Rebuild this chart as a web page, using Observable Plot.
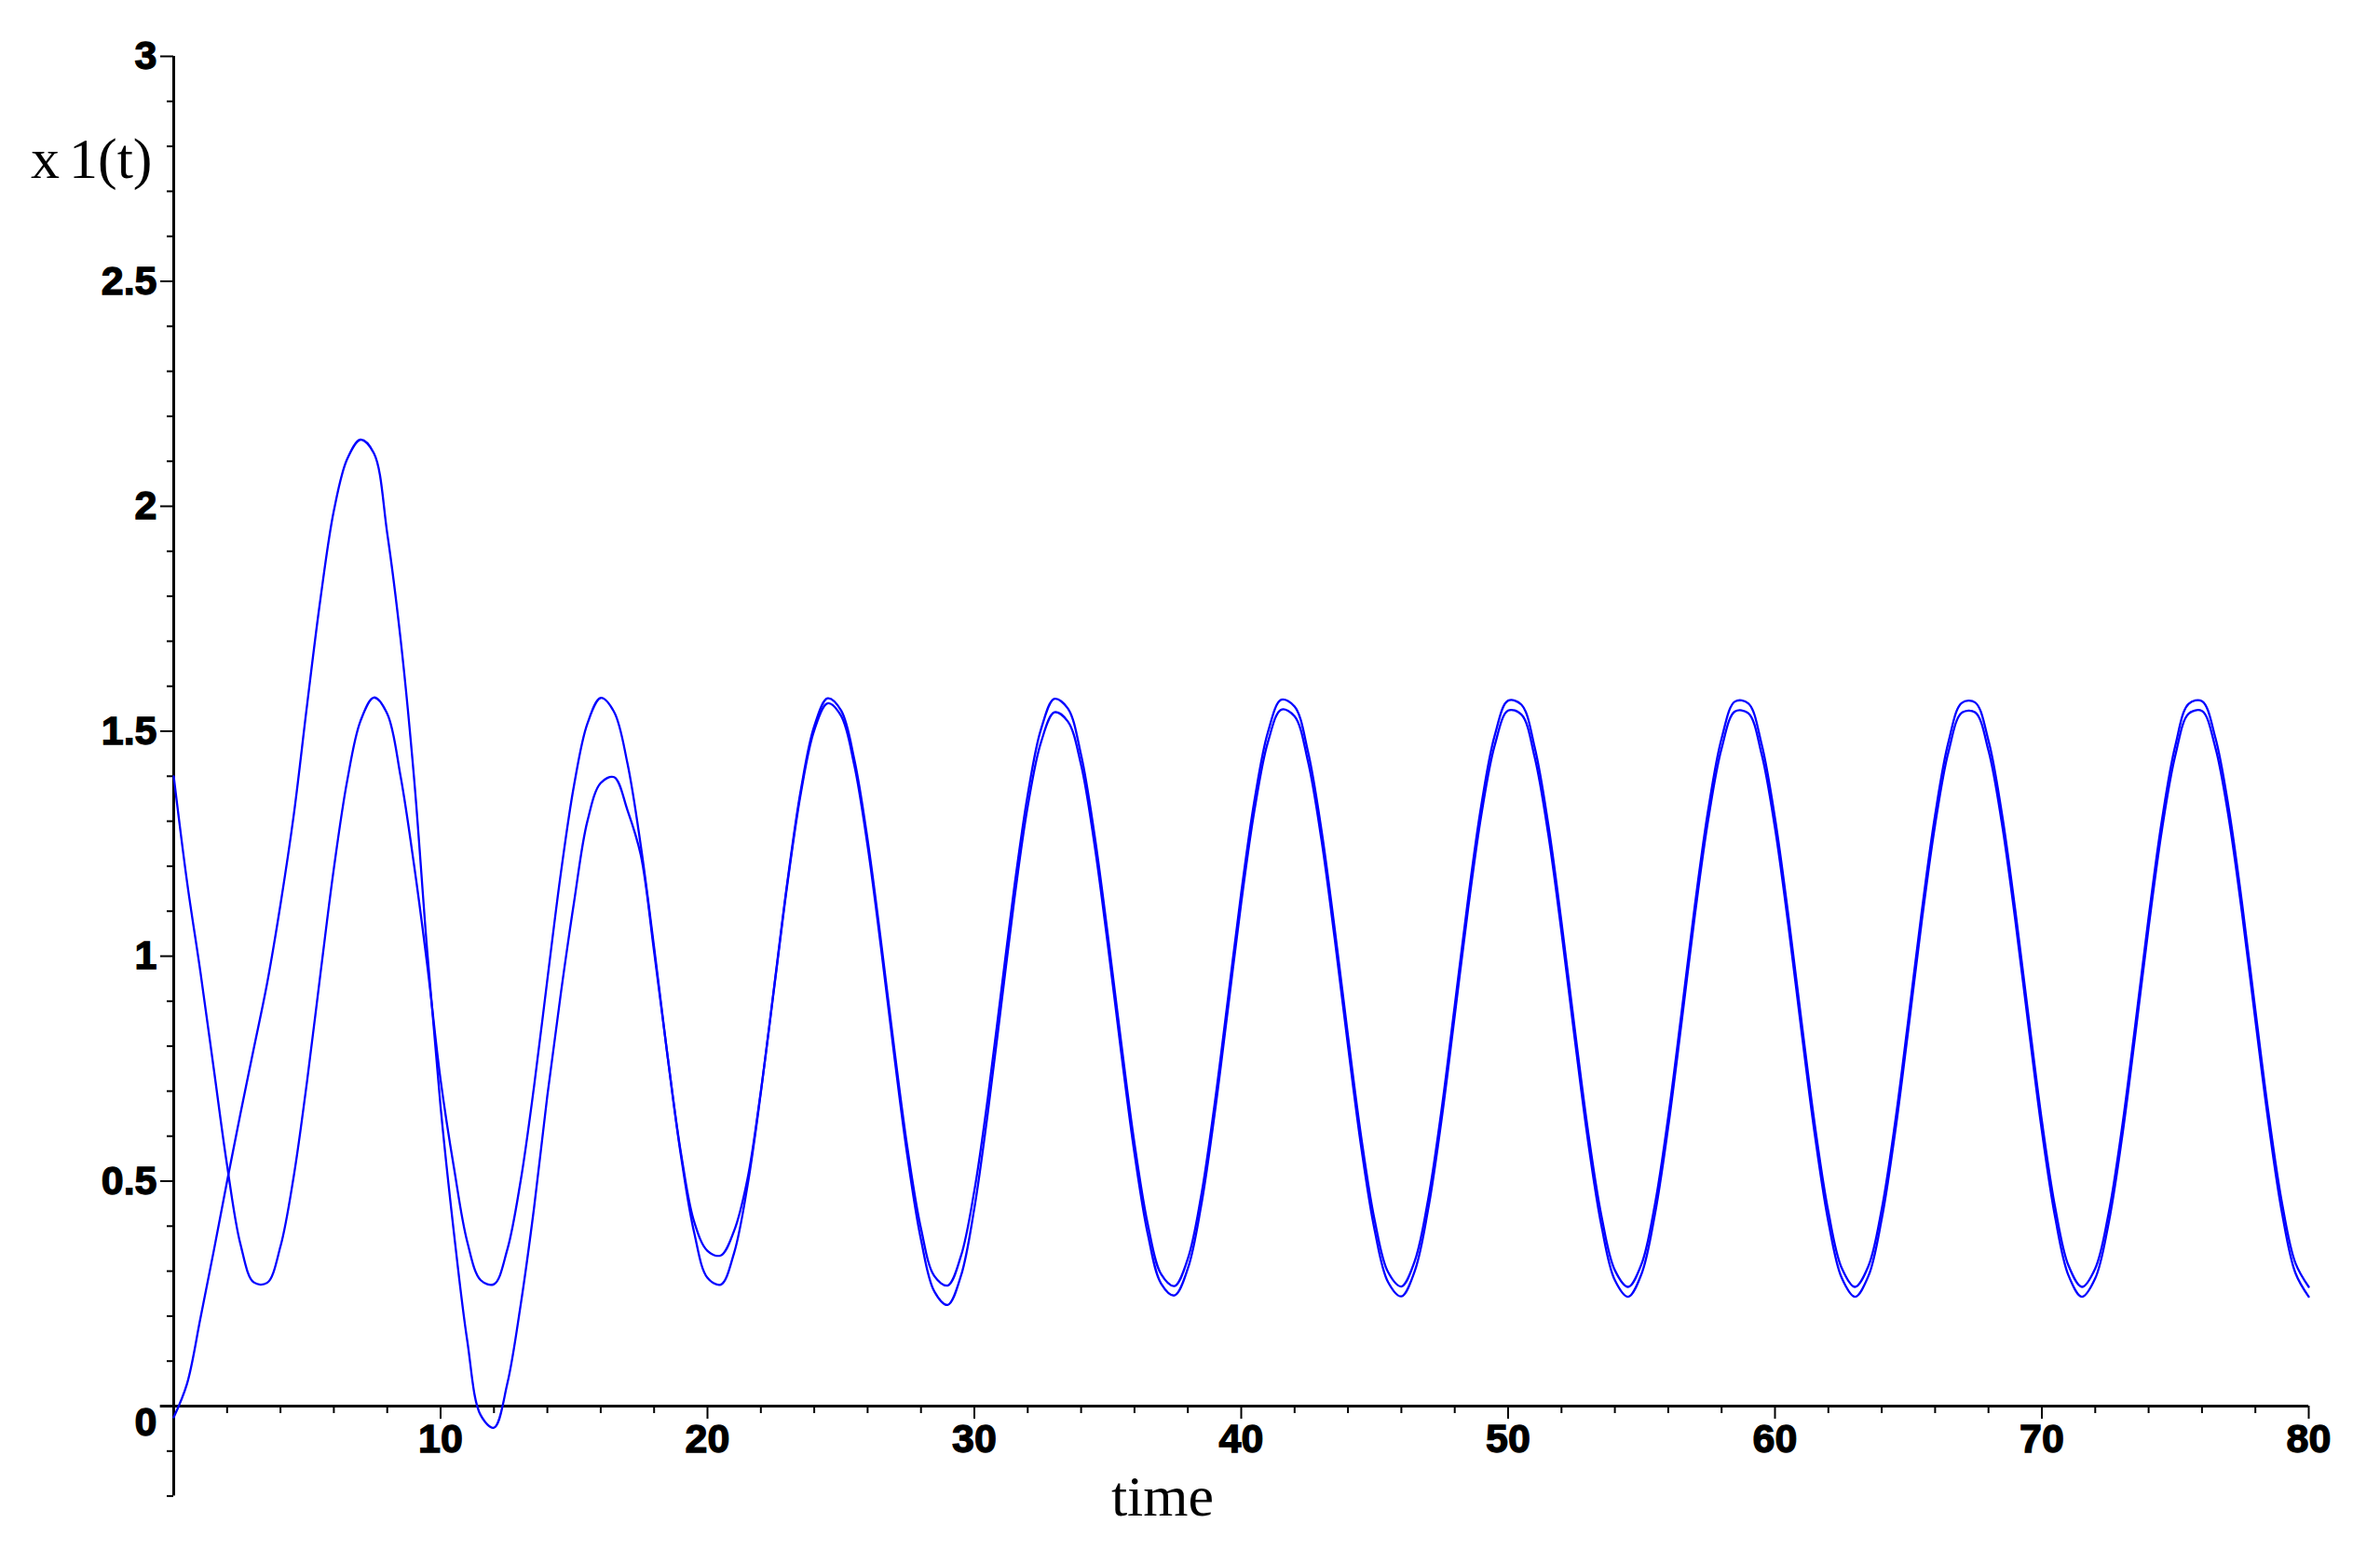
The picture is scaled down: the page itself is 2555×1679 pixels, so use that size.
<!DOCTYPE html>
<html>
<head>
<meta charset="utf-8">
<script src="https://cdn.jsdelivr.net/npm/d3@7"></script>
<script src="https://cdn.jsdelivr.net/npm/@observablehq/plot@0.6"></script>
<style>
  html, body { margin: 0; padding: 0; background: #ffffff; }
  #chart { width: 2555px; height: 1679px; }
  g[aria-label="x-axis tick label"] text,
  g[aria-label="y-axis tick label"] text { stroke: #000; stroke-width: 1.3px; }
</style>
</head>
<body>
<div id="chart"></div>
<script>
// ---- data ----
const time = [
  0, 0.5, 1, 1.5, 2, 2.5, 3, 3.5, 4, 4.5,
  5, 5.5, 6, 6.5, 7, 7.5, 8, 8.5, 9, 9.5,
  10, 10.5, 11, 11.5, 12, 12.5, 13, 13.5, 14, 14.5,
  15, 15.5, 16, 16.5, 17, 17.5, 18, 18.5, 19, 19.5,
  20, 20.5, 21, 21.5, 22, 22.5, 23, 23.5, 24, 24.5,
  25, 25.5, 26, 26.5, 27, 27.5, 28, 28.5, 29, 29.5,
  30, 30.5, 31, 31.5, 32, 32.5, 33, 33.5, 34, 34.5,
  35, 35.5, 36, 36.5, 37, 37.5, 38, 38.5, 39, 39.5,
  40, 40.5, 41, 41.5, 42, 42.5, 43, 43.5, 44, 44.5,
  45, 45.5, 46, 46.5, 47, 47.5, 48, 48.5, 49, 49.5,
  50, 50.5, 51, 51.5, 52, 52.5, 53, 53.5, 54, 54.5,
  55, 55.5, 56, 56.5, 57, 57.5, 58, 58.5, 59, 59.5,
  60, 60.5, 61, 61.5, 62, 62.5, 63, 63.5, 64, 64.5,
  65, 65.5, 66, 66.5, 67, 67.5, 68, 68.5, 69, 69.5,
  70, 70.5, 71, 71.5, 72, 72.5, 73, 73.5, 74, 74.5,
  75, 75.5, 76, 76.5, 77, 77.5, 78, 78.5, 79, 79.5,
  80
];

// curve starting at 1.4
const x1First = [
  1.40, 1.165, 0.965, 0.75, 0.535, 0.36, 0.275, 0.274, 0.355, 0.512,
  0.724, 0.962, 1.195, 1.390, 1.523, 1.575, 1.539, 1.400, 1.205, 0.980,
  0.725, 0.530, 0.365, 0.280, 0.271, 0.348, 0.501, 0.710, 0.948, 1.182,
  1.380, 1.517, 1.574, 1.543, 1.429, 1.246, 1.020, 0.780, 0.559, 0.386,
  0.285, 0.270, 0.341, 0.490, 0.697, 0.933, 1.168, 1.370, 1.511, 1.573,
  1.547, 1.438, 1.259, 1.034, 0.794, 0.571, 0.395, 0.289, 0.268, 0.334,
  0.479, 0.683, 0.919, 1.155, 1.359, 1.505, 1.572, 1.551, 1.447, 1.271,
  1.048, 0.809, 0.584, 0.404, 0.293, 0.267, 0.328, 0.468, 0.670, 0.904,
  1.141, 1.348, 1.498, 1.570, 1.555, 1.455, 1.283, 1.062, 0.823, 0.596,
  0.413, 0.298, 0.266, 0.322, 0.458, 0.656, 0.890, 1.127, 1.337, 1.491,
  1.568, 1.559, 1.463, 1.295, 1.076, 0.837, 0.609, 0.422, 0.302, 0.265,
  0.316, 0.448, 0.643, 0.875, 1.114, 1.326, 1.484, 1.566, 1.562, 1.471,
  1.307, 1.091, 0.852, 0.622, 0.432, 0.307, 0.265, 0.311, 0.438, 0.630,
  0.861, 1.100, 1.314, 1.476, 1.563, 1.564, 1.479, 1.318, 1.104, 0.866,
  0.634, 0.441, 0.312, 0.265, 0.306, 0.428, 0.617, 0.847, 1.086, 1.303,
  1.468, 1.561, 1.567, 1.486, 1.330, 1.118, 0.880, 0.648, 0.451, 0.318,
  0.265
];

// curve starting at 0
const x1Second = [
  -0.025, 0.05, 0.195, 0.345, 0.50, 0.65, 0.795, 0.94, 1.115, 1.315,
  1.56, 1.795, 1.99, 2.105, 2.148, 2.118, 1.94, 1.705, 1.40, 1.01,
  0.665, 0.385, 0.145, -0.02, -0.048, 0.05, 0.225, 0.44, 0.69, 0.915,
  1.12, 1.30, 1.385, 1.398, 1.325, 1.225, 1.01, 0.78, 0.565, 0.41,
  0.345, 0.335, 0.39, 0.505, 0.70, 0.93, 1.163, 1.363, 1.502, 1.562,
  1.535, 1.425, 1.245, 1.02, 0.778, 0.552, 0.37, 0.255, 0.225, 0.29,
  0.44, 0.65, 0.888, 1.127, 1.333, 1.476, 1.542, 1.522, 1.425, 1.249,
  1.026, 0.787, 0.562, 0.382, 0.272, 0.246, 0.306, 0.446, 0.648, 0.882,
  1.119, 1.326, 1.476, 1.548, 1.533, 1.433, 1.261, 1.040, 0.801, 0.574,
  0.391, 0.276, 0.244, 0.300, 0.436, 0.634, 0.868, 1.105, 1.315, 1.469,
  1.546, 1.537, 1.441, 1.273, 1.054, 0.815, 0.587, 0.400, 0.280, 0.243,
  0.294, 0.426, 0.621, 0.853, 1.092, 1.304, 1.462, 1.544, 1.540, 1.449,
  1.285, 1.069, 0.830, 0.600, 0.410, 0.285, 0.243, 0.289, 0.416, 0.608,
  0.839, 1.078, 1.292, 1.454, 1.541, 1.542, 1.457, 1.296, 1.082, 0.844,
  0.612, 0.419, 0.290, 0.243, 0.284, 0.406, 0.595, 0.825, 1.064, 1.281,
  1.446, 1.539, 1.545, 1.464, 1.308, 1.096, 0.858, 0.626, 0.429, 0.296,
  0.243
];

const xMajorTicks = [10, 20, 30, 40, 50, 60, 70, 80];
const xMinorTicks = [2, 4, 6, 8, 12, 14, 16, 18, 22, 24, 26, 28, 32, 34, 36, 38,
  42, 44, 46, 48, 52, 54, 56, 58, 62, 64, 66, 68, 72, 74, 76, 78];
const yMajorTicks = [0.5, 1, 1.5, 2, 2.5, 3];
const yZeroTick = [0];
const yMinorTicks = [-0.2, -0.1, 0.1, 0.2, 0.3, 0.4, 0.6, 0.7, 0.8, 0.9,
  1.1, 1.2, 1.3, 1.4, 1.6, 1.7, 1.8, 1.9, 2.1, 2.2, 2.3, 2.4, 2.6, 2.7, 2.8, 2.9];
const xDomain = [0, 80];
const yDomain = [0, 3];
const yAxisBottom = -0.2;
const xAxisLeft = -0.5;

const xLabel = "time";
const yLabel = ["x", "1(t)"];

// ---- build table ----
const rows = [];
time.forEach((t, i) => rows.push({t, v: x1First[i], s: "first"}));
time.forEach((t, i) => rows.push({t, v: x1Second[i], s: "second"}));

const tickFont = {fontSize: 43, fontWeight: "bold", fontFamily: "Liberation Sans, Arial, sans-serif", fill: "black"};

const plot = Plot.plot({
  width: 2555,
  height: 1679,
  marginLeft: 186,
  marginRight: 77,
  marginTop: 60,
  marginBottom: 170,
  x: {domain: xDomain},
  y: {domain: yDomain},
  style: {background: "white", color: "black", fontFamily: "Liberation Sans, Arial, sans-serif", overflow: "visible"},
  marks: [
    Plot.ruleX([0], {y1: yAxisBottom, y2: yDomain[1], stroke: "black", strokeWidth: 3}),
    Plot.ruleY([0], {x1: xAxisLeft, x2: xDomain[1], stroke: "black", strokeWidth: 3}),
    Plot.axisX(xMinorTicks, {tickSize: 8, strokeWidth: 2, tickFormat: () => "", label: null}),
    Plot.axisX(xMajorTicks, {tickSize: 14, strokeWidth: 2, tickPadding: 5, tickFormat: d => String(d), label: null, ...tickFont}),
    Plot.axisY(yMinorTicks, {tickSize: 7, strokeWidth: 2, tickFormat: () => "", label: null}),
    Plot.axisY(yMajorTicks, {tickSize: 14, strokeWidth: 2, tickPadding: 4, tickFormat: d => String(d), label: null, ...tickFont}),
    Plot.axisY(yZeroTick, {tickSize: 14, strokeWidth: 2, tickFormat: () => "", label: null}),
    Plot.axisY(yZeroTick, {tickSize: 0, tickPadding: 18, dy: 18, tickFormat: d => String(d), label: null, ...tickFont}),
    Plot.line(rows, {x: "t", y: "v", z: "s", stroke: "#0000ff", strokeWidth: 2.3, curve: "catmull-rom"})
  ]
});

document.getElementById("chart").appendChild(plot);

const svg = d3.select(plot);
const yl = svg.append("text")
  .attr("x", 33).attr("y", 191)
  .attr("text-anchor", "start")
  .attr("font-family", "Liberation Serif, Times New Roman, serif")
  .attr("font-size", 62).attr("fill", "black");
yl.append("tspan").text(yLabel[0]);
yl.append("tspan").attr("dx", 10).text(yLabel[1]);

svg.append("text")
  .attr("x", 1248).attr("y", 1627)
  .attr("text-anchor", "middle")
  .attr("font-family", "Liberation Serif, Times New Roman, serif")
  .attr("font-size", 62).attr("fill", "black")
  .text(xLabel);
</script>
</body>
</html>
